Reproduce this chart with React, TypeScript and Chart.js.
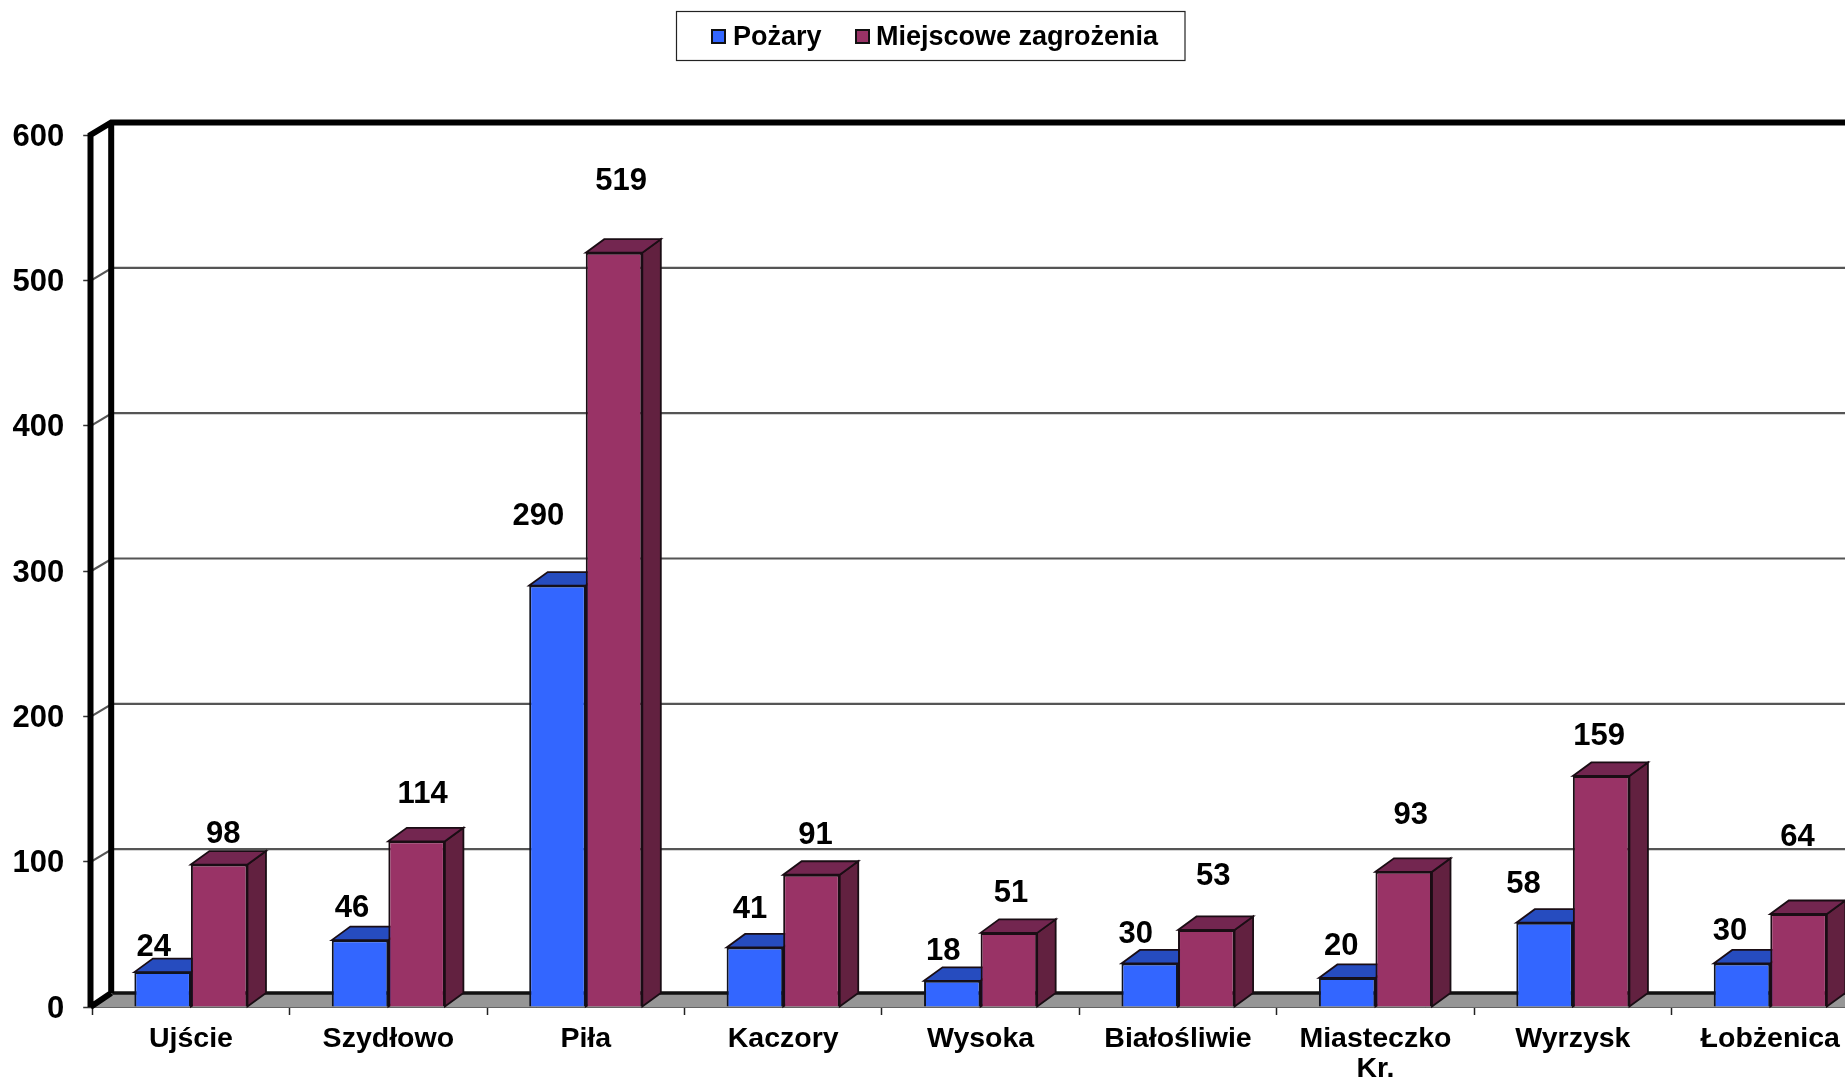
import React, { useEffect, useRef } from "react";
import { Chart, registerables } from "chart.js";

Chart.register(...registerables);

const categories: (string | string[])[] = ["Ujście", "Szydłowo", "Piła", "Kaczory", "Wysoka", "Białośliwie", ["Miasteczko", "Kr."], "Wyrzysk", "Łobżenica"];
const pozary = [24, 46, 290, 41, 18, 30, 20, 58, 30];
const miejscowe = [98, 114, 519, 91, 51, 53, 93, 159, 64];
const yMax = 600;
const yStep = 100;

// Hand-placed value label offsets from each bar's top centre: [dx, lift]
const pozaryLabelOffsets = [[-9, 25], [-8, 32], [-19, 69], [-5, 38], [-9, 29], [-14, 29], [-6, 31], [-21, 38], [-12, 32]];
const miejscoweLabelOffsets = [[4, 30], [6, 47], [7, 71], [4, 39], [2, 39], [7, 54], [7, 56], [-2, 39], [-1, 77]];

const FONT = '"Liberation Sans", Arial, sans-serif';
const BLUE = "#3366FF", BLUE_TOP = "#264CBF", BLUE_SIDE = "#1F3F9F";
const MAROON = "#993366", MAROON_TOP = "#732650", MAROON_SIDE = "#622140";
const WALL_DX = 20, WALL_DY = 12.5, FLOOR_DY = 14, BAR_DX = 18.5, BAR_DY = 13.5;

function poly(ctx: CanvasRenderingContext2D, pts: number[][], fill: string, stroke: string, lw: number) {
  ctx.beginPath();
  pts.forEach((p, i) => (i ? ctx.lineTo(p[0], p[1]) : ctx.moveTo(p[0], p[1])));
  ctx.closePath();
  ctx.fillStyle = fill;
  ctx.fill();
  ctx.lineWidth = lw;
  ctx.strokeStyle = stroke;
  ctx.stroke();
}

const scene3d = {
  id: "scene3d",
  beforeDatasetsDraw(chart: any) {
    const { ctx, chartArea: a, scales } = chart;
    const W = chart.width + 40;
    ctx.save();
    // floor
    poly(ctx, [[a.left, a.bottom], [a.left + WALL_DX, a.bottom - FLOOR_DY], [W, a.bottom - FLOOR_DY], [W, a.bottom]], "#969696", "#969696", 1);
    ctx.strokeStyle = "#111";
    ctx.lineWidth = 3.5;
    ctx.beginPath();
    ctx.moveTo(a.left + WALL_DX, a.bottom - FLOOR_DY);
    ctx.lineTo(W, a.bottom - FLOOR_DY);
    ctx.stroke();
    // wall gridlines with their side-wall diagonal
    ctx.strokeStyle = "#555";
    ctx.lineWidth = 2.2;
    scales.y.ticks.forEach((t: any) => {
      if (t.value === 0 || t.value === yMax) return;
      const y = scales.y.getPixelForValue(t.value);
      ctx.beginPath();
      ctx.moveTo(a.left - 1, y);
      ctx.lineTo(a.left + WALL_DX, y - WALL_DY);
      ctx.lineTo(W, y - WALL_DY);
      ctx.stroke();
    });
    // thick wall frame
    ctx.strokeStyle = "#000";
    ctx.lineWidth = 6;
    ctx.beginPath();
    ctx.moveTo(a.left - 1.7, a.bottom);
    ctx.lineTo(a.left - 1.7, a.top);
    ctx.lineTo(a.left + WALL_DX - 1, a.top - WALL_DY);
    ctx.lineTo(W, a.top - WALL_DY);
    ctx.moveTo(a.left + WALL_DX - 1, a.top - WALL_DY);
    ctx.lineTo(a.left + WALL_DX - 1, a.bottom - FLOOR_DY);
    ctx.moveTo(a.left - 1.7, a.bottom);
    ctx.lineTo(a.left + WALL_DX - 1, a.bottom - FLOOR_DY);
    ctx.stroke();
    // depth faces of the bars
    [[0, BLUE_TOP, BLUE_SIDE], [1, MAROON_TOP, MAROON_SIDE]].forEach(([idx, topC, sideC]) => {
      chart.getDatasetMeta(idx as number).data.forEach((bar: any) => {
        const { x, y, width, base } = bar.getProps(["x", "y", "width", "base"], true);
        const l = x - width / 2, r = x + width / 2;
        poly(ctx, [[r, y], [r + BAR_DX, y - BAR_DY], [r + BAR_DX, base - BAR_DY], [r, base]], sideC as string, "#1a0d14", 1.8);
        poly(ctx, [[l, y], [l + BAR_DX, y - BAR_DY], [r + BAR_DX, y - BAR_DY], [r, y]], topC as string, "#1a0d14", 1.8);
      });
    });
    ctx.restore();
  },
  afterDatasetsDraw(chart: any) {
    const { ctx } = chart;
    ctx.save();
    // value labels
    ctx.font = `bold 31px ${FONT}`;
    ctx.fillStyle = "#000";
    ctx.textAlign = "center";
    ctx.textBaseline = "middle";
    [pozaryLabelOffsets, miejscoweLabelOffsets].forEach((offsets, d) => {
      chart.getDatasetMeta(d).data.forEach((bar: any, i: number) => {
        const { x, y } = bar.getProps(["x", "y"], true);
        ctx.fillText(String(chart.data.datasets[d].data[i]), x + offsets[i][0], y - offsets[i][1]);
      });
    });
    // legend box
    ctx.fillStyle = "#fff";
    ctx.fillRect(676, 11, 509, 49);
    ctx.strokeStyle = "#222";
    ctx.lineWidth = 1.2;
    ctx.strokeRect(676.5, 11.5, 508.5, 49);
    ctx.font = `bold 27px ${FONT}`;
    ctx.textAlign = "left";
    [[711, 733], [855, 876]].forEach(([sx, tx], d) => {
      const ds = chart.data.datasets[d];
      ctx.fillStyle = ds.backgroundColor;
      ctx.strokeStyle = "#111";
      ctx.lineWidth = 2;
      ctx.fillRect(sx + 1, 30, 13, 13);
      ctx.strokeRect(sx + 1, 30, 13, 13);
      ctx.fillStyle = "#000";
      ctx.fillText(ds.label, tx, 37.5);
    });
    ctx.restore();
  },
};

export default function App() {
  const ref = useRef<HTMLCanvasElement>(null);
  useEffect(() => {
    const chart = new Chart(ref.current!, {
      type: "bar",
      data: {
        labels: categories as any,
        datasets: [
          { label: "Pożary", data: pozary, backgroundColor: BLUE, borderColor: "#10131f", borderWidth: 2 },
          { label: "Miejscowe zagrożenia", data: miejscowe, backgroundColor: MAROON, borderColor: "#1a0d14", borderWidth: 2 },
        ],
      },
      options: {
        animation: false,
        responsive: false,
        devicePixelRatio: 1,
        layout: { padding: { top: 135, right: 0, left: 0, bottom: 0 } },
        plugins: { legend: { display: false }, tooltip: { enabled: false } },
        datasets: { bar: { categoryPercentage: 0.573, barPercentage: 1 } },
        scales: {
          x: {
            offset: true,
            afterFit: (s: any) => { s.height = 74; },
            grid: { drawOnChartArea: false, tickLength: 8, tickColor: "#222", tickWidth: 1.5, offset: true },
            border: { display: true, color: "#333", width: 2 },
            ticks: { color: "#000", padding: 9, maxRotation: 0, autoSkip: false, font: { family: FONT, size: 28.5, weight: "bold", lineHeight: 1.05 } },
          },
          y: {
            min: 0,
            max: yMax,
            afterFit: (s: any) => { s.width = 92.2; },
            grid: { drawOnChartArea: false, tickLength: 9, tickColor: "#333", tickWidth: 1.5 },
            border: { display: false },
            ticks: {
              stepSize: yStep,
              color: "#000",
              padding: 19,
              // empty first line nudges the label 2px below its tick
              callback: (v: any) => ["", String(v)],
              font: { family: FONT, size: 31, weight: "bold", lineHeight: "4px" },
            },
          },
        },
      },
      plugins: [scene3d],
    } as any);
    return () => chart.destroy();
  }, []);
  return (
    <div style={{ position: "fixed", left: 0, top: 0, width: 1845, height: 1081, overflow: "hidden", background: "#fff" }}>
      <canvas ref={ref} width={1869} height={1081} style={{ display: "block", filter: "blur(0.5px)" }} />
    </div>
  );
}
